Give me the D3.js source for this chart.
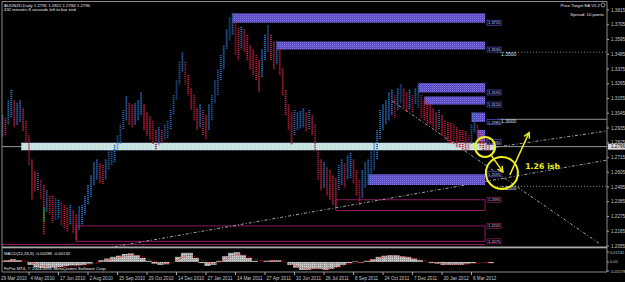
<!DOCTYPE html>
<html><head><meta charset="utf-8">
<script src="https://cdn.jsdelivr.net/npm/d3@7/dist/d3.min.js"></script>
<style>html,body{margin:0;padding:0;background:#000;overflow:hidden}svg{display:block}</style>
</head><body><svg id="c" width="625" height="282"></svg>
<script>
// ---------------- DATA ----------------
const highs = [1.300,
1.303,1.301,1.314,1.322,1.314,1.312,1.314,1.308,1.299,1.288,1.270,1.261,1.260,1.255,1.251,1.247,1.243,1.243,1.241,1.240,1.238,1.236,1.234,1.236,1.232,1.229,1.235,1.236,1.243,1.251,1.258,1.268,1.270,1.267,1.266,1.270,1.277,1.277,1.281,1.288,1.296,1.307,1.317,1.312,1.311,1.312,1.314,1.320,1.311,1.305,
1.302,
1.299,1.292,1.294,1.292,1.296,1.299,1.307,1.318,1.329,1.343,1.350,1.343,1.333,1.323,1.318,1.308,1.311,1.307,1.303,1.311,1.318,1.329,1.337,1.348,1.355,1.367,1.376,1.379,1.373,1.368,1.369,1.367,1.363,1.355,1.352,1.348,1.344,1.352,1.363,1.370,1.363,1.358,1.358,1.352,1.338,1.322,1.311,1.305,1.307,1.305,
1.306,
1.308,1.305,1.307,1.303,1.296,1.277,1.270,1.268,1.264,1.262,1.258,1.256,1.266,1.270,1.267,1.273,1.275,1.270,1.262,1.255,1.262,1.268,1.270,1.277,1.282,1.292,1.307,1.311,1.314,1.320,1.322,1.318,1.323,1.326,1.323,1.320,1.322,1.318,1.323,1.326,1.318,1.314,1.313,1.311,1.308,1.305,1.307,1.303,1.299,1.298,
1.297,
1.296,1.294,1.292,1.292,1.291,1.288,1.296,1.305,1.296,1.290,1.287,1.285,1.282];
const lows = [1.287,
1.287,1.288,1.296,1.301,1.294,1.296,1.298,1.291,1.283,1.266,1.240,1.246,1.247,1.240,1.214,1.231,1.229,1.223,1.225,1.226,1.221,1.219,1.216,1.221,1.215,1.210,1.217,1.221,1.229,1.236,1.242,1.251,1.255,1.252,1.251,1.255,1.262,1.266,1.268,1.277,1.282,1.292,1.299,1.296,1.294,1.296,1.299,1.303,1.292,1.288,
1.285,
1.281,1.277,1.281,1.282,1.285,1.286,1.292,1.303,1.314,1.326,1.335,1.326,1.318,1.307,1.299,1.292,1.294,1.288,1.285,1.292,1.299,1.312,1.318,1.329,1.337,1.352,1.359,1.363,1.348,1.344,1.352,1.350,1.344,1.337,1.333,1.329,1.320,1.331,1.344,1.350,1.344,1.337,1.341,1.333,1.318,1.303,1.292,1.281,1.288,1.292,
1.293,
1.294,1.291,1.292,1.288,1.277,1.255,1.247,1.249,1.243,1.240,1.236,1.235,1.247,1.251,1.249,1.255,1.256,1.252,1.243,1.236,1.241,1.249,1.251,1.256,1.262,1.270,1.285,1.292,1.296,1.299,1.303,1.301,1.307,1.312,1.308,1.305,1.307,1.305,1.311,1.308,1.301,1.299,1.297,1.296,1.294,1.291,1.292,1.288,1.285,1.282,
1.282,
1.281,1.279,1.279,1.277,1.277,1.277,1.281,1.290,1.281,1.279,1.277,1.276,1.277];

const dateLabels = ["29 Mar 2010","4 May 2010","17 Jun 2010","2 Aug 2010","15 Sep 2010","29 Oct 2010","14 Dec 2010","27 Jan 2011","14 Mar 2011","27 Apr 2011","10 Jun 2011","26 Jul 2011","8 Sep 2011","24 Oct 2011","7 Dec 2011","20 Jan 2012","6 Mar 2012"];
const priceTicks = [1.2055,1.2165,1.2275,1.2385,1.2495,1.2605,1.2715,1.2825,1.2935,1.3045,1.3155,1.3265,1.3375,1.3485,1.3595,1.3705,1.3815];
const bidPrice = 1.2796;

// price target zones (purple)
const zoneStart = [79, 94, 142, 144, 160, 162, 125];
const zoneHigh  = [1.379, 1.358, 1.327, 1.317, 1.305, 1.292, 1.259];
const zoneLow   = [1.372, 1.352, 1.320, 1.311, 1.298, 1.283, 1.251];
const zoneLabel = ["1.3725","1.3530","1.3195","1.3120","1.2985","1.2835","1.2595"];
const zoneLabelAt = [1.372, 1.352, 1.320, 1.311, 1.298, 1.283, 1.259];
const zoneEnd = 164.6;

// magenta outlined zones
const boxStart = [114, 26];
const boxHigh  = [1.240, 1.2205];
const boxLow   = [1.232, 1.209];
const boxLabel = ["1.2395","1.2205"];
const boxLabel2 = "1.2075";

// cyan band
const bandFrom = 7.5, bandTo = 168, bandHigh = 1.2823, bandLow = 1.2771;

// level lines
const levels = [1.3500, 1.3000, 1.2500];
const levelLabels = ["1.3500","1.3000","1.2500"];

// trend lines [bar, price] pairs
const trends = [
  [[36.4, 1.2040], [206, 1.2696]],
  [[133.1, 1.3137], [203.6, 1.2070]],
  [[162.9, 1.2775], [206, 1.2913]]
];

// MACD (one value per two bars)
const macdMain = [0.002,0.003,0.005,0.003,0,-0.005,-0.009,-0.011,-0.011,-0.010,
-0.009,-0.007,-0.006,-0.006,-0.005,-0.003,0,0.003,0.006,0.009,
0.011,0.014,0.015,0.012,0.007,0.002,-0.003,-0.005,-0.004,0,
0.009,0.016,0.016,0.007,-0.002,-0.007,-0.005,0.002,0.010,0.016,
0.017,0.012,0.007,0.002,0,0.002,0.003,0.003,0,-0.005,
-0.010,-0.014,-0.014,-0.012,-0.012,-0.014,-0.012,-0.009,-0.005,-0.002,
0.001,-0.001,0.002,0.005,0.009,0.011,0.012,0.012,0.010,0.009,
0.006,0.003,0,-0.002,-0.003,-0.005,-0.005,-0.005,-0.005,-0.003,
-0.002,0,0,-0.002];
const macdSignal = [0.001,0.002,0.003,0.003,0.002,0,-0.003,-0.006,-0.008,-0.009,
-0.009,-0.008,-0.007,-0.007,-0.006,-0.005,-0.003,-0.001,0.002,0.005,
0.008,0.010,0.012,0.012,0.010,0.006,0.002,-0.001,-0.003,-0.002,
0.002,0.008,0.012,0.010,0.005,0,-0.003,-0.002,0.003,0.009,
0.013,0.013,0.010,0.006,0.003,0.002,0.002,0.002,0.001,-0.002,
-0.006,-0.010,-0.012,-0.012,-0.012,-0.013,-0.012,-0.010,-0.007,-0.004,
-0.002,-0.001,0.001,0.003,0.006,0.008,0.010,0.011,0.010,0.009,
0.007,0.005,0.002,0,-0.001,-0.003,-0.004,-0.004,-0.004,-0.004,
-0.003,-0.002,-0.001,-0.001];
const macdTicks = [0.01745, 0, -0.01578];
const macdTickLabels = ["0.01745","0.00","-0.01578"];

// ---------------- DRAW ----------------
const svg = d3.select("#c");
const F = "'Liberation Sans', Arial, sans-serif";
const L = 2, R = 607, T = 2, MB = 247, MT = 248, B = 272;

const x = d3.scaleLinear().domain([0, 160]).range([-0.5, 471.5]);
const y = d3.scaleLinear().domain([1.2055, 1.3815]).range([246, 10]);
const ym = d3.scaleLinear().domain([-0.01578, 0.01745]).range([271, 252]);

const defs = svg.append("defs");
const pz = defs.append("pattern").attr("id","pz").attr("width",2).attr("height",2).attr("patternUnits","userSpaceOnUse");
pz.append("rect").attr("width",2).attr("height",2).attr("fill","#5446c0");
pz.append("rect").attr("width",1).attr("height",1).attr("fill","#8b7be8");
pz.append("rect").attr("x",1).attr("y",1).attr("width",1).attr("height",1).attr("fill","#6656d0");
const pb = defs.append("pattern").attr("id","pb").attr("width",4).attr("height",2).attr("patternUnits","userSpaceOnUse");
pb.append("rect").attr("width",4).attr("height",2).attr("fill","#b6e0ee");
pb.append("rect").attr("width",1).attr("height",1).attr("fill","#e8f0c8");
pb.append("rect").attr("x",2).attr("y",1).attr("width",1).attr("height",1).attr("fill","#d6ecf4");
const pm = defs.append("pattern").attr("id","pm").attr("width",2).attr("height",2).attr("patternUnits","userSpaceOnUse");
pm.append("rect").attr("width",2).attr("height",2).attr("fill","#a4a4a4");
pm.append("rect").attr("width",1).attr("height",1).attr("fill","#dcdcdc");
defs.append("clipPath").attr("id","cm").append("rect").attr("x",L).attr("y",T).attr("width",R-L).attr("height",MB-T);
defs.append("clipPath").attr("id","cw").append("rect").attr("x",L).attr("y",MT).attr("width",R-L).attr("height",B-MT);

svg.append("rect").attr("width",625).attr("height",282).attr("fill","#000");

const main = svg.append("g").attr("clip-path","url(#cm)");

// bid line
main.append("line").attr("x1",L).attr("x2",R).attr("y1",y(bidPrice)).attr("y2",y(bidPrice)).attr("stroke","#9a9a9a").attr("stroke-width",1);

// magenta boxes
boxStart.forEach((s,i)=>{
  main.append("rect").attr("x",x(s)).attr("y",y(boxHigh[i])).attr("width",x(zoneEnd)-x(s)).attr("height",y(boxLow[i])-y(boxHigh[i]))
    .attr("fill","none").attr("stroke","#8c1a60").attr("stroke-width",1);
});
main.append("line").attr("x1",L).attr("x2",x(zoneEnd)).attr("y1",y(1.2055)-1.5).attr("y2",y(1.2055)-1.5).attr("stroke","#8c1a60");

// trend lines
trends.forEach(t=>{
  main.append("line").attr("x1",x(t[0][0])).attr("y1",y(t[0][1])).attr("x2",x(t[1][0])).attr("y2",y(t[1][1]))
    .attr("stroke","#9aa6a6").attr("stroke-width",1).attr("stroke-dasharray","3,2,1,2");
});

// level lines
levels.forEach((lv,i)=>{
  main.append("line").attr("x1",x(zoneEnd)+12).attr("x2",R).attr("y1",y(lv)).attr("y2",y(lv))
    .attr("stroke", i===1 ? "#8a9494" : "#7f8a8a").attr("stroke-dasharray", i===1 ? null : "1,2");
  main.append("text").attr("x",x(zoneEnd)+16).attr("y",y(lv)+4).text(levelLabels[i])
    .attr("font-family",F).attr("font-size",5).attr("fill","#cfe6ff");
});

// purple zones
zoneStart.forEach((s,i)=>{
  main.append("rect").attr("x",x(s)).attr("y",y(zoneHigh[i])).attr("width",x(zoneEnd)-x(s)).attr("height",y(zoneLow[i])-y(zoneHigh[i]))
    .attr("fill","url(#pz)");
});

// cyan band
main.append("rect").attr("x",x(bandFrom)).attr("y",y(bandHigh)).attr("width",x(bandTo)-x(bandFrom)).attr("height",y(bandLow)-y(bandHigh))
  .attr("fill","url(#pb)").attr("stroke","#d8f0f8").attr("stroke-width",0.5);

// bars
const bars = highs.map((h,i)=>({i, h, l: lows[i]}));
main.selectAll("line.bar").data(bars).enter().append("line").attr("class","bar")
  .attr("x1",d=>x(d.i)).attr("x2",d=>x(d.i)).attr("y1",d=>y(d.h)).attr("y2",d=>y(d.l))
  .attr("stroke",(d,i)=>{ if(i===0) return "#2c6cc0"; const pm=(highs[i-1]+lows[i-1])/2, m=(d.h+d.l)/2; return m>=pm ? "#2c6cc0" : "#c0203e"; })
  .attr("stroke-width",1.8).attr("stroke-dasharray","1.2,0.8");

// green mark
main.append("line").attr("x1",x(15.1)).attr("x2",x(15.1)).attr("y1",y(1.2346)).attr("y2",y(1.2234)).attr("stroke","#10c020").attr("stroke-width",1);

// zone labels
zoneLabel.forEach((t,i)=>{
  const yy = y(zoneLabelAt[i]);
  main.append("rect").attr("x",x(zoneEnd)+2).attr("y",yy-2.5).attr("width",14).attr("height",5).attr("fill","#000").attr("stroke","#5a50c8").attr("stroke-width",0.7);
  main.append("text").attr("x",x(zoneEnd)+3).attr("y",yy+1.6).text(t).attr("font-family",F).attr("font-size",4).attr("fill","#c8d0ff");
});
boxLabel.forEach((t,i)=>{
  const yy = y(boxHigh[i]);
  main.append("rect").attr("x",x(zoneEnd)+2).attr("y",yy-2.5).attr("width",14).attr("height",5).attr("fill","#000").attr("stroke","#8c1a60").attr("stroke-width",0.7);
  main.append("text").attr("x",x(zoneEnd)+3).attr("y",yy+1.6).text(t).attr("font-family",F).attr("font-size",4).attr("fill","#e0b0d0");
});
{
  const yy = y(boxLow[1]);
  main.append("rect").attr("x",x(zoneEnd)+2).attr("y",yy-2.5).attr("width",14).attr("height",5).attr("fill","#000").attr("stroke","#8c1a60").attr("stroke-width",0.7);
  main.append("text").attr("x",x(zoneEnd)+3).attr("y",yy+1.6).text(boxLabel2).attr("font-family",F).attr("font-size",4).attr("fill","#e0b0d0");
}

// yellow annotations (bar, price units)
const Y = "#f0f020";
const c1 = [164.6, 1.2794], c2 = [170.3, 1.2600];
main.append("circle").attr("cx",x(c1[0])).attr("cy",y(c1[1])).attr("r",10).attr("fill","none").attr("stroke",Y).attr("stroke-width",2);
main.append("circle").attr("cx",x(c2[0])).attr("cy",y(c2[1])).attr("r",16).attr("fill","none").attr("stroke",Y).attr("stroke-width",2);
function arrow(p0,p1){
  const x0=x(p0[0]),y0=y(p0[1]),x1=x(p1[0]),y1=y(p1[1]);
  const a=Math.atan2(y1-y0,x1-x0), L2=6;
  main.append("line").attr("x1",x0).attr("y1",y0).attr("x2",x1).attr("y2",y1).attr("stroke",Y).attr("stroke-width",1.5);
  main.append("path").attr("d",`M${x1-L2*Math.cos(a-0.5)},${y1-L2*Math.sin(a-0.5)}L${x1},${y1}L${x1-L2*Math.cos(a+0.5)},${y1-L2*Math.sin(a+0.5)}`)
    .attr("fill","none").attr("stroke",Y).attr("stroke-width",1.5);
}
arrow([166.6,1.2735],[170.6,1.2608]);
arrow([173.0,1.2585],[179.5,1.2900]);
main.append("text").attr("x",x(178.2)).attr("y",y(1.2630)).text("1.26 ish").attr("font-family","'DejaVu Sans', sans-serif").attr("font-weight","bold").attr("font-size",7.8).attr("fill",Y);

// MACD window
const mw = svg.append("g").attr("clip-path","url(#cw)");
mw.selectAll("rect.h").data(macdMain).enter().append("rect").attr("class","h")
  .attr("x",(d,i)=>x(2*i)-1.5).attr("width",x(2)-x(0)+0.2)
  .attr("y",d=>Math.min(ym(d),ym(0))).attr("height",d=>Math.abs(ym(d)-ym(0)))
  .attr("fill","url(#pm)");
mw.append("path").datum(macdSignal).attr("d",d3.line().x((d,i)=>x(2*i)).y(d=>ym(d)))
  .attr("fill","none").attr("stroke","#e01818").attr("stroke-width",1).attr("stroke-dasharray","1,1.5");

// frames
svg.append("line").attr("x1",L).attr("x2",R).attr("y1",1.5).attr("y2",1.5).attr("stroke","#8a8a8a");
svg.append("line").attr("x1",L).attr("x2",L).attr("y1",1.5).attr("y2",B).attr("stroke","#8a8a8a");
svg.append("line").attr("x1",R).attr("x2",R).attr("y1",1.5).attr("y2",B).attr("stroke","#8a8a8a");
svg.append("rect").attr("x",L).attr("y",MB-0.5).attr("width",R-L).attr("height",1.8).attr("fill","#a8a8a8");
svg.append("line").attr("x1",L).attr("x2",R).attr("y1",B).attr("y2",B).attr("stroke","#8a8a8a");

// price axis
const ax = svg.append("g");
priceTicks.forEach(p=>{
  ax.append("line").attr("x1",R).attr("x2",R+2).attr("y1",y(p)).attr("y2",y(p)).attr("stroke","#aaa");
  ax.append("text").attr("x",R+4).attr("y",y(p)+1.7).text(p.toFixed(4)).attr("font-family",F).attr("font-size",4.6).attr("fill","#c8c8c8");
});
ax.append("rect").attr("x",R+1).attr("y",y(bidPrice)-3).attr("width",17).attr("height",6).attr("fill","#d8d8d8");
ax.append("text").attr("x",R+4).attr("y",y(bidPrice)+1.7).text(bidPrice.toFixed(4)).attr("font-family",F).attr("font-size",4.6).attr("fill","#000");
macdTicks.forEach((v,i)=>{
  ax.append("line").attr("x1",R).attr("x2",R+2).attr("y1",ym(v)).attr("y2",ym(v)).attr("stroke","#aaa");
  ax.append("text").attr("x",R+3).attr("y",ym(v)+1.5).text(macdTickLabels[i]).attr("font-family",F).attr("font-size",3.9).attr("fill","#c8c8c8");
});

// time axis
const tx = svg.append("g");
dateLabels.forEach((t,k)=>{
  const xx = x(k*10);
  tx.append("line").attr("x1",xx).attr("x2",xx).attr("y1",B).attr("y2",B+3).attr("stroke","#aaa");
  tx.append("text").attr("x",xx+1.5).attr("y",B+7.5).text(t).attr("font-family",F).attr("font-size",4.6).attr("fill","#c8c8c8");
});

// header & footer texts
const tt = (x0,y0,s,anchor)=>svg.append("text").attr("x",x0).attr("y",y0).text(s).attr("font-family",F).attr("font-size",4.3).attr("fill","#e8e8e8").attr("text-anchor",anchor||"start");
tt(4,6.5,"AUDNZD,Daily  1.2791 1.2822 1.2784 1.2796");
tt(4,11,"432 minutes 8 seconds left to bar end");
tt(600,6.5,"Price Target EA V1.2","end");
svg.append("circle").attr("cx",603).attr("cy",5).attr("r",2).attr("fill","none").attr("stroke","#e8e8e8").attr("stroke-width",0.6);
tt(604,16,"Spread: 10 points","end");
tt(4,255,"MACD(12,26,9) -0.00288 -0.00132");
tt(4,270,"FxPro MT4, \u00a9 2001-2011 MetaQuotes Software Corp.");
</script></body></html>
